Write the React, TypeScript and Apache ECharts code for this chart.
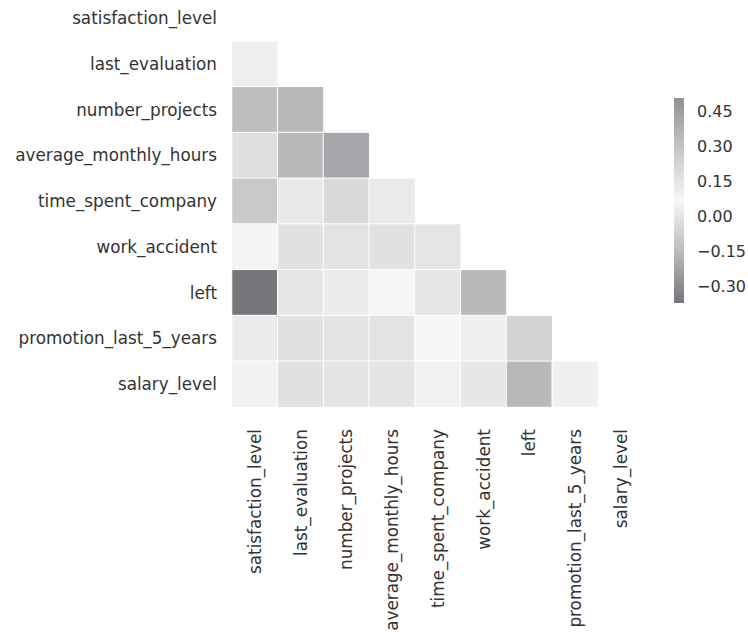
import React, { useEffect, useRef } from "react";
import * as echarts from "echarts";

const categories = [
  "satisfaction_level",
  "last_evaluation",
  "number_projects",
  "average_monthly_hours",
  "time_spent_company",
  "work_accident",
  "left",
  "promotion_last_5_years",
  "salary_level",
];

// lower triangle of the correlation matrix: row i holds values for columns 0..i-1
const row1 = [0.105];
const row2 = [-0.143, 0.349];
const row3 = [-0.02, 0.34, 0.417];
const row4 = [-0.101, 0.132, 0.197, 0.128];
const row5 = [0.059, -0.007, -0.005, -0.01, 0.002];
const row6 = [-0.388, 0.007, 0.024, 0.071, 0.145, -0.155];
const row7 = [0.026, -0.009, -0.006, -0.004, 0.067, 0.039, -0.062];
const row8 = [0.05, -0.013, -0.002, -0.002, 0.048, 0.009, -0.158, 0.098];
const lowerRows = [[], row1, row2, row3, row4, row5, row6, row7, row8];

const colorbarTicks = [-0.3, -0.15, 0, 0.15, 0.3, 0.45];
const colorMin = -0.372;
const colorMax = 0.509;
const paletteStops = ["#75767a", "#babbbd", "#f7f7f7", "#c5c6c8", "#909194"];

const FONT = "DejaVu Sans";
const TEXT = "#333333";

export default function App() {
  const ref = useRef<HTMLDivElement>(null);
  useEffect(() => {
    document.body.style.margin = "0";
    const chart = echarts.init(ref.current!, null, { renderer: "svg" });
    const data: [number, number, number][] = [];
    lowerRows.forEach((row, i) => {
      row.forEach((v, j) => data.push([j, i, v]));
    });
    const labelStyle = { fontFamily: FONT, fontSize: 16.8, color: TEXT };
    // gradient from top (max) to bottom (min)
    const gradStops = paletteStops
      .slice()
      .reverse()
      .map((c, i) => ({ offset: i / (paletteStops.length - 1), color: c }));
    chart.setOption({
      animation: false,
      backgroundColor: "#ffffff",
      grid: [
        { left: 232, top: -4.7, width: 411.75, height: 411.75, outerBoundsMode: "none" },
        { left: 674, top: 98, width: 10, height: 205, outerBoundsMode: "none" },
      ],
      xAxis: [
        {
          type: "category",
          data: categories,
          gridIndex: 0,
          axisLine: { show: false },
          axisTick: { show: false },
          splitLine: { show: false },
          axisLabel: { ...labelStyle, rotate: 90, margin: 22, interval: 0 },
        },
        { type: "value", gridIndex: 1, show: false, min: 0, max: 1 },
      ],
      yAxis: [
        {
          type: "category",
          data: categories,
          inverse: true,
          gridIndex: 0,
          axisLine: { show: false },
          axisTick: { show: false },
          splitLine: { show: false },
          axisLabel: { ...labelStyle, margin: 15, interval: 0 },
        },
        {
          type: "value",
          gridIndex: 1,
          position: "right",
          min: colorMin,
          max: colorMax,
          axisLine: { show: false },
          axisTick: { show: false },
          splitLine: { show: false },
          axisLabel: {
            fontFamily: FONT,
            fontSize: 16,
            color: TEXT,
            margin: 13,
            customValues: colorbarTicks,
            formatter: (v: number) =>
              (v < -1e-9 ? "\u2212" : "") + Math.abs(v).toFixed(2),
          },
        },
      ],
      visualMap: {
        type: "continuous",
        show: false,
        min: colorMin,
        max: colorMax,
        seriesIndex: 0,
        inRange: { color: paletteStops },
      },
      series: [
        {
          type: "heatmap",
          xAxisIndex: 0,
          yAxisIndex: 0,
          data,
          itemStyle: { borderColor: "#ffffff", borderWidth: 1 },
          emphasis: { disabled: true },
        },
        {
          type: "custom",
          xAxisIndex: 1,
          yAxisIndex: 1,
          silent: true,
          data: [[colorMin, colorMax]],
          renderItem: (params: any, api: any) => {
            const top = api.coord([0, api.value(1)]);
            const bottom = api.coord([1, api.value(0)]);
            return {
              type: "rect",
              shape: {
                x: top[0],
                y: top[1],
                width: bottom[0] - top[0],
                height: bottom[1] - top[1],
              },
              style: {
                fill: new echarts.graphic.LinearGradient(0, 0, 0, 1, gradStops),
              },
            };
          },
        },
      ],
    });
    return () => chart.dispose();
  }, []);
  return <div ref={ref} style={{ width: 748, height: 635 }} />;
}
